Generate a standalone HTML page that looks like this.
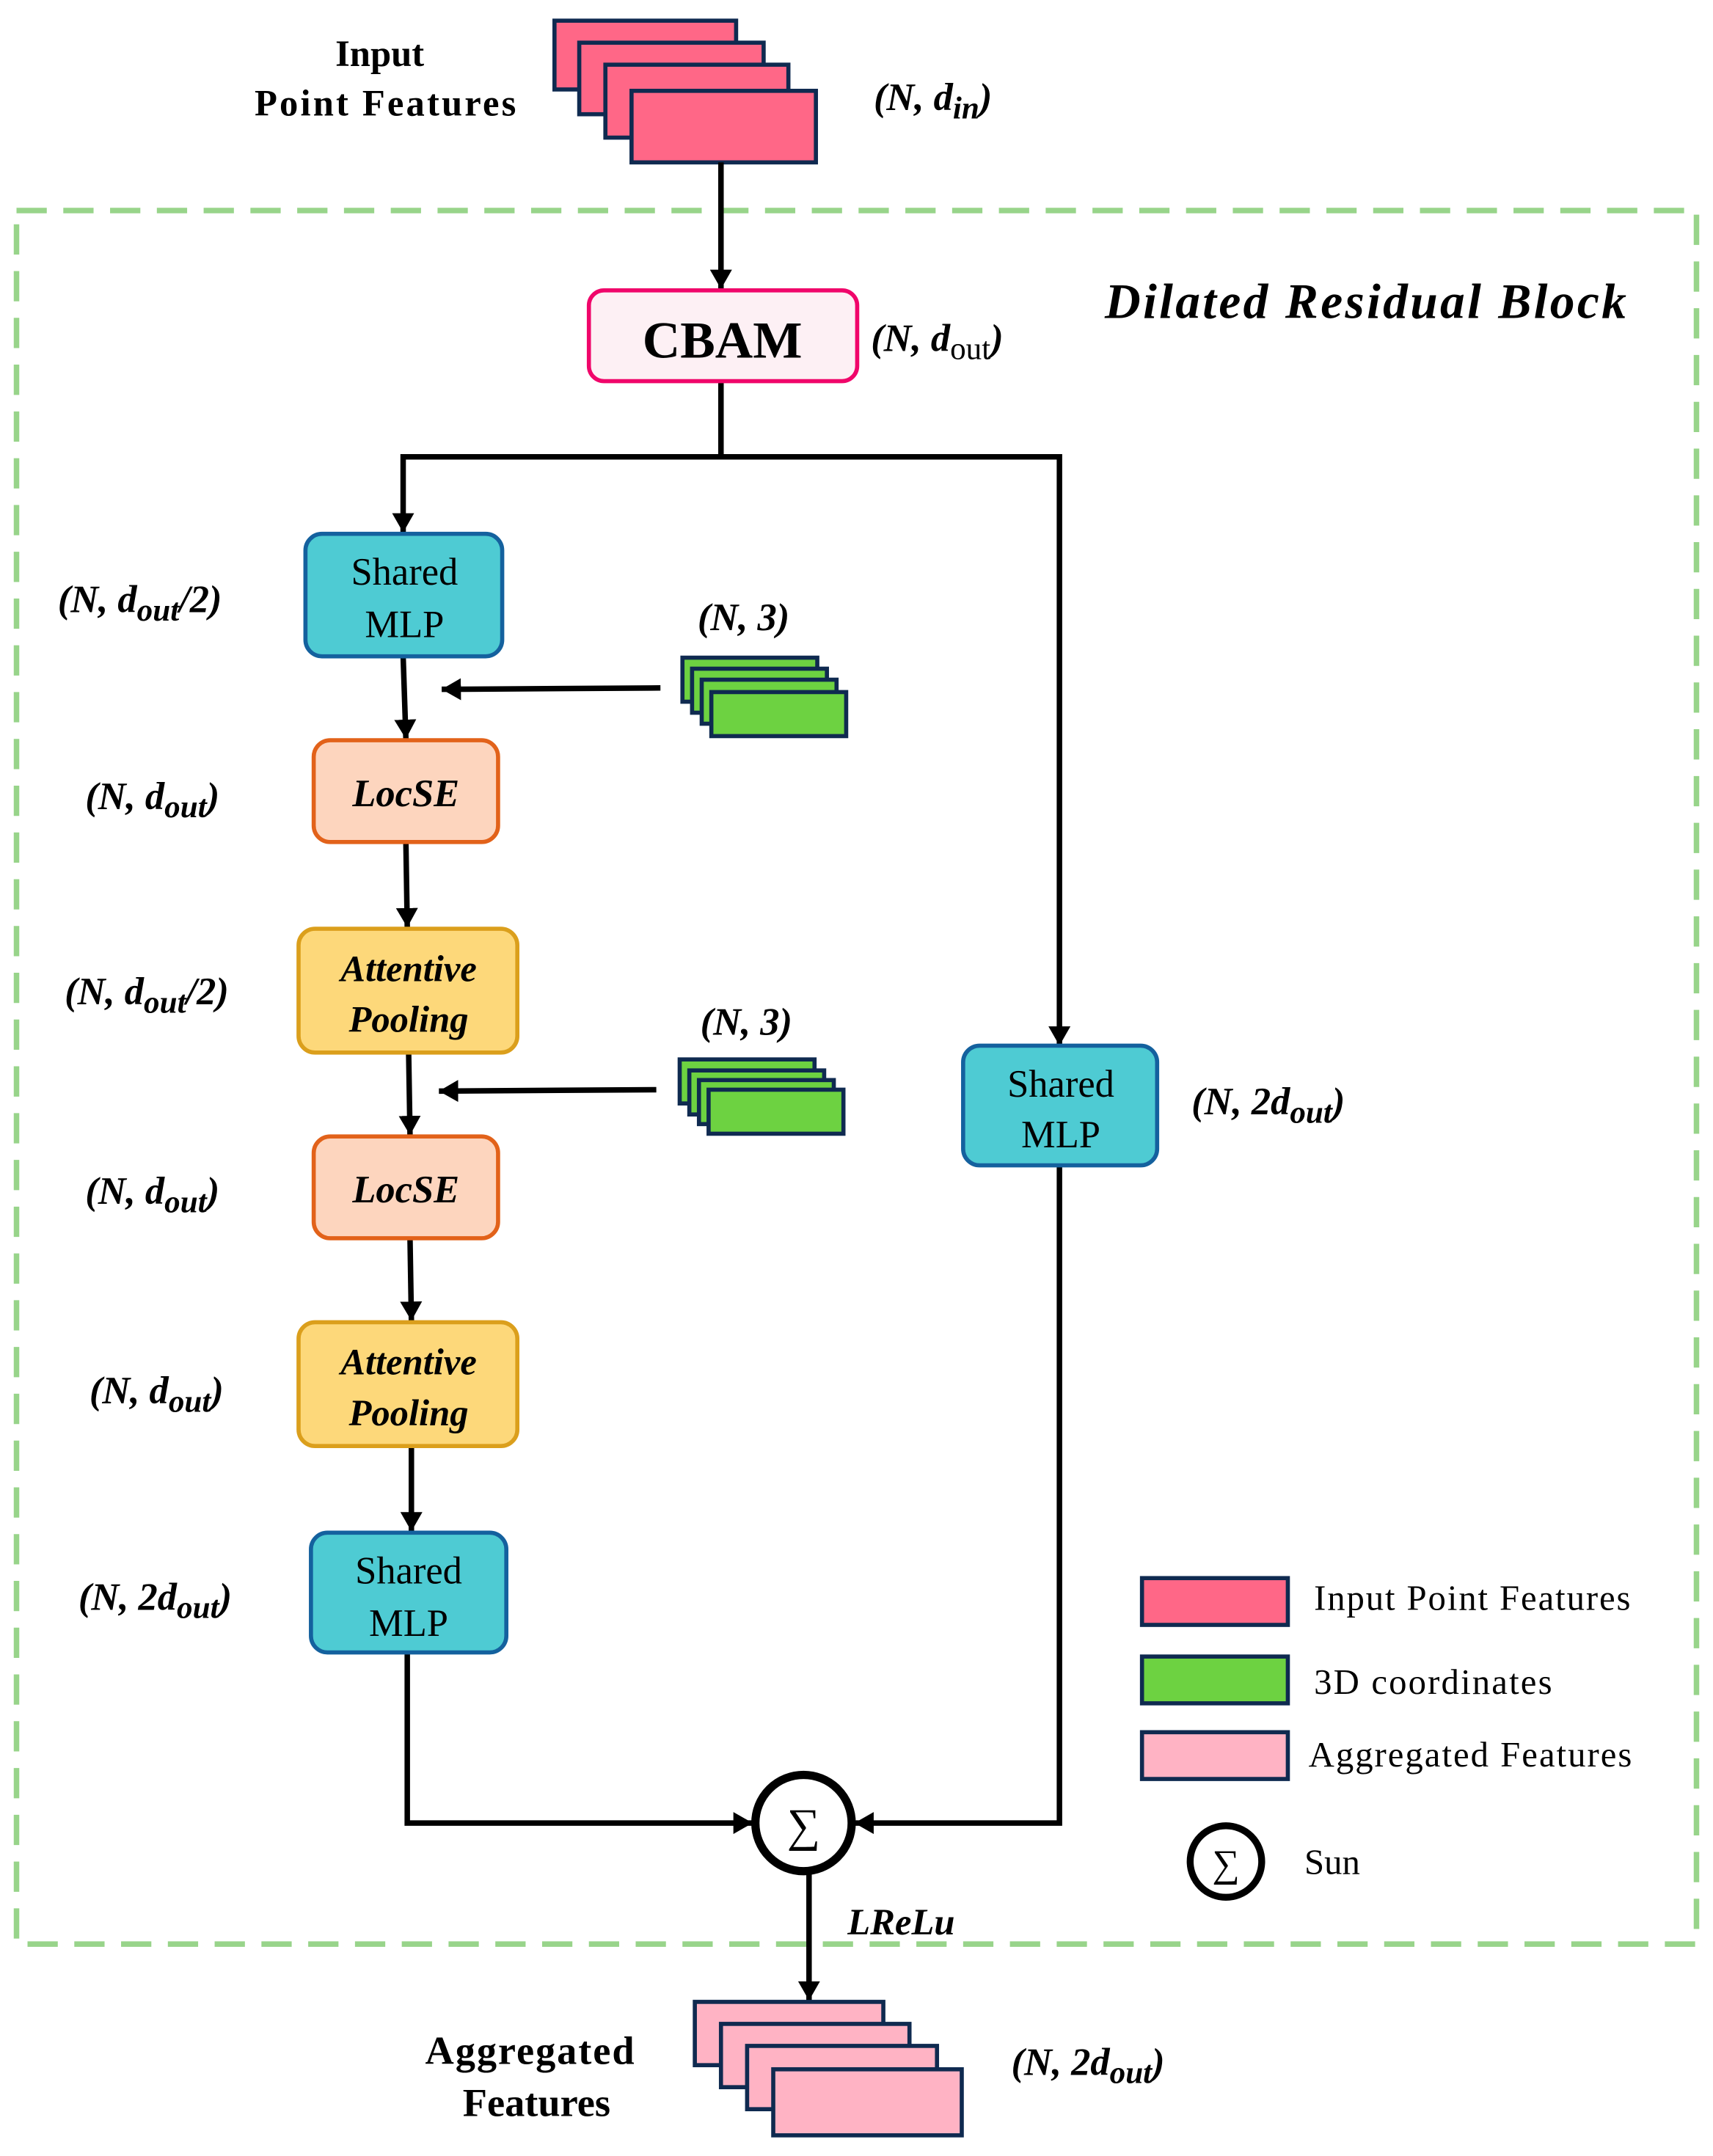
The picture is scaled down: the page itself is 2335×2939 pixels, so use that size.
<!DOCTYPE html>
<html><head><meta charset="utf-8"><style>
html,body{margin:0;padding:0;background:#fff;}
svg{display:block;}
text{font-family:"Liberation Serif",serif;fill:#000;}
.b{font-weight:bold;}
.bi{font-weight:bold;font-style:italic;}
</style></head><body>
<svg width="2335" height="2939" viewBox="0 0 1245 1567" xmlns="http://www.w3.org/2000/svg">
<defs>
<marker id="ah" markerWidth="14" markerHeight="16" refX="14" refY="8" orient="auto" markerUnits="userSpaceOnUse" viewBox="0 0 14 16">
<path d="M0,0 L14,8 L0,16 z" fill="#000"/>
</marker>
</defs>
<rect x="0" y="0" width="1245" height="1567" fill="#fff"/>
<rect x="12" y="153" width="1221" height="1260" fill="none" stroke="#98d48a" stroke-width="4" stroke-dasharray="22 12"/>

<g fill="#ff6787" stroke="#0f2a50" stroke-width="3">
<rect x="403" y="15" width="132" height="50"/>
<rect x="421" y="31" width="134" height="52"/>
<rect x="440" y="47" width="133" height="53"/>
<rect x="459" y="66" width="134" height="52"/>
</g>
<text class="b" x="276" y="48" font-size="27" text-anchor="middle">Input</text>
<text class="b" x="280" y="84" font-size="27" text-anchor="middle" textLength="190">Point Features</text>
<text class="bi" x="635" y="80" font-size="28">(N, d<tspan font-size="23" dy="6">in</tspan><tspan dy="-6">)</tspan></text>

<g stroke="#000" stroke-width="4" fill="none">
<line x1="524" y1="118" x2="524" y2="210" marker-end="url(#ah)"/>
<polyline points="524,277 524,332 293,332 293,387" marker-end="url(#ah)"/>
<polyline points="524,332 770,332 770,760" marker-end="url(#ah)"/>
<line x1="293" y1="477" x2="295" y2="537" marker-end="url(#ah)"/>
<line x1="480" y1="500" x2="321" y2="501" marker-end="url(#ah)"/>
<line x1="295" y1="612" x2="296" y2="674" marker-end="url(#ah)"/>
<line x1="297" y1="765" x2="298" y2="825" marker-end="url(#ah)"/>
<line x1="477" y1="792" x2="319" y2="793" marker-end="url(#ah)"/>
<line x1="298" y1="900" x2="299" y2="960" marker-end="url(#ah)"/>
<line x1="299" y1="1051" x2="299" y2="1113" marker-end="url(#ah)"/>
<polyline points="296,1201 296,1325 547,1325" marker-end="url(#ah)"/>
<polyline points="770,847 770,1325 621,1325" marker-end="url(#ah)"/>
<line x1="588" y1="1362" x2="588" y2="1454" marker-end="url(#ah)"/>
</g>

<rect x="428" y="211" width="195" height="66" rx="11" fill="#fdf0f4" stroke="#f0066a" stroke-width="3"/>
<text class="b" x="525" y="260" font-size="38" text-anchor="middle">CBAM</text>
<text class="bi" x="633" y="255" font-size="28">(N, d<tspan font-size="23" dy="6" font-style="normal" font-weight="normal">out</tspan><tspan dy="-6">)</tspan></text>
<text class="bi" x="803" y="231" font-size="36" textLength="379">Dilated Residual Block</text>

<rect x="222" y="388" width="143" height="89" rx="12" fill="#4ecbd3" stroke="#14619e" stroke-width="3"/>
<text x="294" y="425" font-size="28" text-anchor="middle">Shared</text>
<text x="294" y="463" font-size="28" text-anchor="middle">MLP</text>
<text class="bi" x="42" y="445" font-size="28">(N, d<tspan font-size="23" dy="6">out</tspan><tspan dy="-6">/2)</tspan></text>

<g fill="#6dd241" stroke="#0f2a50" stroke-width="3">
<rect x="496" y="478" width="98" height="32"/>
<rect x="503" y="486" width="98" height="32"/>
<rect x="510" y="494" width="98" height="32"/>
<rect x="517" y="503" width="98" height="32"/>
</g>
<text class="bi" x="507" y="458" font-size="28">(N, 3)</text>

<rect x="228" y="538" width="134" height="74" rx="12" fill="#fdd5be" stroke="#e2621a" stroke-width="3"/>
<text class="bi" x="295" y="586" font-size="28" text-anchor="middle">LocSE</text>
<text class="bi" x="62" y="588" font-size="28">(N, d<tspan font-size="23" dy="6">out</tspan><tspan dy="-6">)</tspan></text>

<rect x="217" y="675" width="159" height="90" rx="12" fill="#fdd87a" stroke="#db9f1c" stroke-width="3"/>
<text class="bi" x="297" y="713" font-size="27" text-anchor="middle">Attentive</text>
<text class="bi" x="297" y="750" font-size="27" text-anchor="middle">Pooling</text>
<text class="bi" x="47" y="730" font-size="28">(N, d<tspan font-size="23" dy="6">out</tspan><tspan dy="-6">/2)</tspan></text>

<g fill="#6dd241" stroke="#0f2a50" stroke-width="3">
<rect x="494" y="770" width="98" height="32"/>
<rect x="501" y="778" width="98" height="32"/>
<rect x="508" y="785" width="98" height="32"/>
<rect x="515" y="792" width="98" height="32"/>
</g>
<text class="bi" x="509" y="752" font-size="28">(N, 3)</text>

<rect x="228" y="826" width="134" height="74" rx="12" fill="#fdd5be" stroke="#e2621a" stroke-width="3"/>
<text class="bi" x="295" y="874" font-size="28" text-anchor="middle">LocSE</text>
<text class="bi" x="62" y="875" font-size="28">(N, d<tspan font-size="23" dy="6">out</tspan><tspan dy="-6">)</tspan></text>

<rect x="217" y="961" width="159" height="90" rx="12" fill="#fdd87a" stroke="#db9f1c" stroke-width="3"/>
<text class="bi" x="297" y="999" font-size="27" text-anchor="middle">Attentive</text>
<text class="bi" x="297" y="1036" font-size="27" text-anchor="middle">Pooling</text>
<text class="bi" x="65" y="1020" font-size="28">(N, d<tspan font-size="23" dy="6">out</tspan><tspan dy="-6">)</tspan></text>

<rect x="226" y="1114" width="142" height="87" rx="12" fill="#4ecbd3" stroke="#14619e" stroke-width="3"/>
<text x="297" y="1151" font-size="28" text-anchor="middle">Shared</text>
<text x="297" y="1189" font-size="28" text-anchor="middle">MLP</text>
<text class="bi" x="57" y="1170" font-size="28">(N, 2d<tspan font-size="23" dy="6">out</tspan><tspan dy="-6">)</tspan></text>

<rect x="700" y="760" width="141" height="87" rx="12" fill="#4ecbd3" stroke="#14619e" stroke-width="3"/>
<text x="771" y="797" font-size="28" text-anchor="middle">Shared</text>
<text x="771" y="834" font-size="28" text-anchor="middle">MLP</text>
<text class="bi" x="866" y="810" font-size="28">(N, 2d<tspan font-size="23" dy="6">out</tspan><tspan dy="-6">)</tspan></text>

<circle cx="584" cy="1325" r="35" fill="#fff" stroke="#000" stroke-width="6"/>
<text x="584" y="1338" font-size="34" text-anchor="middle">∑</text>
<text class="bi" x="616" y="1406" font-size="27">LReLu</text>

<g fill="#ffb3c4" stroke="#0f2a50" stroke-width="3">
<rect x="505" y="1455" width="137" height="46"/>
<rect x="524" y="1471" width="137" height="46"/>
<rect x="543" y="1487" width="138" height="46"/>
<rect x="562" y="1504" width="137" height="48"/>
</g>
<text class="b" x="385" y="1500" font-size="29" text-anchor="middle" textLength="152">Aggregated</text>
<text class="b" x="390" y="1538" font-size="29" text-anchor="middle">Features</text>
<text class="bi" x="735" y="1508" font-size="28">(N, 2d<tspan font-size="23" dy="6">out</tspan><tspan dy="-6">)</tspan></text>

<rect x="830" y="1147" width="106" height="34" fill="#ff6787" stroke="#0f2a50" stroke-width="3"/>
<rect x="830" y="1204" width="106" height="34" fill="#6dd241" stroke="#0f2a50" stroke-width="3"/>
<rect x="830" y="1259" width="106" height="34" fill="#ffb3c4" stroke="#0f2a50" stroke-width="3"/>
<text x="955" y="1170" font-size="26" textLength="230">Input Point Features</text>
<text x="955" y="1231" font-size="26" textLength="173">3D coordinates</text>
<text x="951" y="1284" font-size="26" textLength="235">Aggregated Features</text>
<circle cx="891" cy="1353" r="26" fill="#fff" stroke="#000" stroke-width="5"/>
<text x="891" y="1364" font-size="28" text-anchor="middle">∑</text>
<text x="948" y="1362" font-size="26">Sun</text>
</svg>
</body></html>
